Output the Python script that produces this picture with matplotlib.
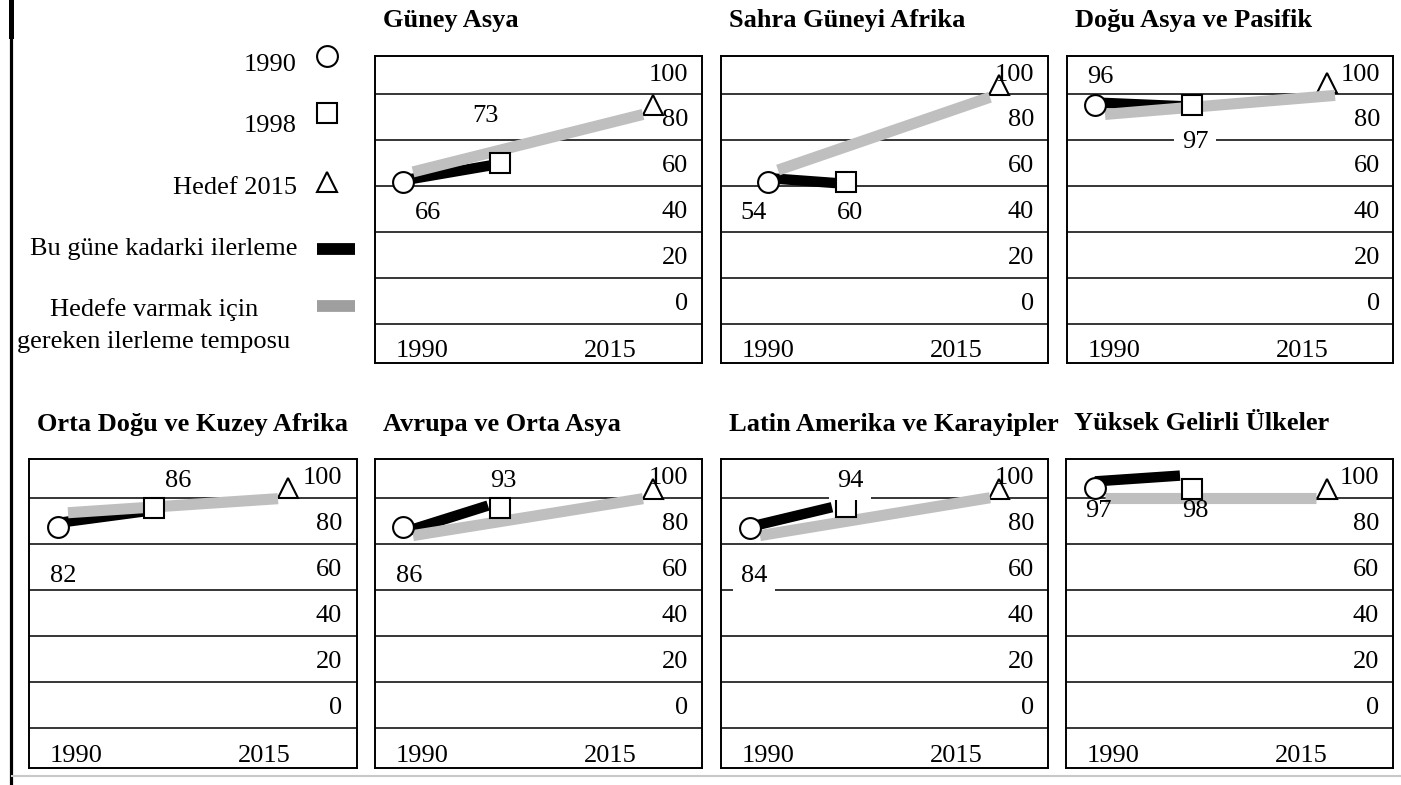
import matplotlib
matplotlib.use("Agg")
import matplotlib.pyplot as plt
from matplotlib.lines import Line2D

plt.rcParams['font.family'] = ['Liberation Serif', 'DejaVu Serif']

# ---------------- data ----------------
regions = ["Güney Asya", "Sahra Güneyi Afrika", "Doğu Asya ve Pasifik",
           "Orta Doğu ve Kuzey Afrika", "Avrupa ve Orta Asya",
           "Latin Amerika ve Karayipler", "Yüksek Gelirli Ülkeler"]
value_1990 = [66, 54, 96, 82, 86, 84, 97]
value_1998 = [73, 60, 97, 86, 93, 94, 98]
# where the marks sit on each panel's 0-100 scale
mark_1990 = [51.7, 51.7, 85.2, 77.4, 77.4, 77.0, 94.3]
mark_1998 = [60.0, 51.7, 85.2, 85.7, 85.7, 86.1, 94.0]
mark_target = [85.2, 94.1, 94.8, 94.1, 93.9, 93.9, 93.9]
progress_start = [52.5, 53.5, 86.5, 79.1, 75.0, 77.4, 97.1]
progress_end = [59.0, 51.3, 84.9, 84.0, 86.6, 85.9, 99.6]
pace_start = [56.2, 57.0, 81.3, 83.5, 73.6, 73.6, 90.0]
pace_end = [81.3, 88.8, 89.6, 89.6, 89.6, 90.0, 90.0]
scale_ticks = [0, 20, 40, 60, 80, 100]
year_labels = ["1990", "2015"]
legend_labels = ["1990", "1998", "Hedef 2015", "Bu güne kadarki ilerleme",
                 "Hedefe varmak için", "gereken ilerleme temposu"]

# ---------------- layout ----------------
W, H = 1401, 785
FS = 19
TFS = 19
GRAY = "#bfbfbf"
MEW = 1.5
MS_O, MS_S, MS_T = 15, 14.5, 15

# panel boxes in pixels: left, top, right, bottom
boxes = [(375, 56, 702, 363), (721, 56, 1048, 363), (1067, 56, 1393, 363),
         (29, 459, 357, 768), (375, 459, 702, 768), (721, 459, 1048, 768),
         (1066, 459, 1393, 768)]
# horizontal placement inside a panel (panel units 0..327)
x_circle = [28, 47, 28, 29, 28, 29, 29]
x_square = [125, 125, 125, 125, 125, 125, 126]
x_tri = [278, 278, 260, 259, 278, 278, 261]
x_pace0 = [38, 57, 38, 39, 38, 39, 39]
x_pace1 = [268, 269, 268, 249, 268, 269, 250]
x_prog1 = [115, 116, 115, 114, 113, 111, 114]
lab_a = [(53, 39.6, False), (33, 39.6, False), (33, 99.1, False), (34, 57.2, False),
         (34, 57.2, False), (33, 57.2, True), (32, 85.7, False)]
lab_b = [(110, 81.7, False), (129, 39.6, False), (128, 70.4, True), (149, 98.5, False),
         (128, 98.5, False), (129, 98.5, True), (129, 85.7, False)]
TXT_DY = -1.3  # small downward nudge so text sits like the reference

fig = plt.figure(figsize=(W / 100, H / 100), dpi=100)

for i, name in enumerate(regions):
    l, t, r, b = boxes[i]
    ax = fig.add_axes([l / W, 1 - b / H, (r - l) / W, (b - t) / H])
    ax.set_xlim(0, r - l)
    ax.set_ylim(-27.2, 106.8)
    ax.set_xticks([])
    ax.set_yticks([])
    for s in ax.spines.values():
        s.set_linewidth(1.4)
        s.set_color("black")
    for g in [90, 70, 50, 30, 10, -10]:
        ax.axhline(g, color="black", lw=1.1, zorder=1)
    for v in scale_ticks:
        ax.text(313, v + TXT_DY, str(v), ha="right", va="center", fontsize=FS, zorder=6)
    ax.text(47, -20.5 + TXT_DY, year_labels[0], ha="center", va="center", fontsize=FS)
    ax.text(235, -20.5 + TXT_DY, year_labels[1], ha="center", va="center", fontsize=FS)

    # progress so far (black) and required pace (gray)
    ax.plot([x_circle[i], x_prog1[i]], [progress_start[i], progress_end[i]],
            color="black", lw=7.5, solid_capstyle="butt", zorder=2)
    ax.plot([x_tri[i]], [mark_target[i]], marker="^", ms=MS_T, mfc="white",
            mec="black", mew=MEW, zorder=2.5, clip_on=False)
    ax.plot([x_pace0[i], x_pace1[i]], [pace_start[i], pace_end[i]],
            color=GRAY, lw=8, solid_capstyle="butt", zorder=3)
    ax.plot([x_square[i]], [mark_1998[i]], marker="s", ms=MS_S, mfc="white",
            mec="black", mew=MEW, zorder=4, clip_on=False)
    ax.plot([x_circle[i]], [mark_1990[i]], marker="o", ms=MS_O, mfc="white",
            mec="black", mew=MEW, zorder=4, clip_on=False)

    for (x, y, boxed), val in ((lab_a[i], value_1990[i]), (lab_b[i], value_1998[i])):
        kw = {}
        if boxed:
            kw["bbox"] = dict(boxstyle="square,pad=0.3", fc="white", ec="none")
        ax.text(x, y + TXT_DY, str(val), ha="center", va="center", fontsize=FS,
                zorder=7, **kw)

    fig.text((l + 8) / W, 1 - (t - 35) / H, name, ha="left", va="center",
             fontsize=TFS, fontweight="bold")

# ---------------- legend and frame lines (pixel overlay) ----------------
ov = fig.add_axes([0, 0, 1, 1], zorder=-1)
ov.set_xlim(0, W)
ov.set_ylim(H, 0)
ov.axis("off")
ov.patch.set_alpha(0)

ov.text(297, 65, legend_labels[0], ha="right", va="center", fontsize=FS)
ov.plot([327], [56], marker="o", ms=MS_O, mfc="white", mec="black", mew=MEW)
ov.text(297, 126, legend_labels[1], ha="right", va="center", fontsize=FS)
ov.plot([327], [113], marker="s", ms=MS_S, mfc="white", mec="black", mew=MEW)
ov.text(297, 188, legend_labels[2], ha="right", va="center", fontsize=FS)
ov.plot([327], [182], marker="^", ms=MS_T, mfc="white", mec="black", mew=MEW)
ov.text(297, 249, legend_labels[3], ha="right", va="center", fontsize=FS)
ov.plot([317, 355], [249, 249], color="black", lw=8.5, solid_capstyle="butt")
ov.text(154, 310, legend_labels[4], ha="center", va="center", fontsize=FS)
ov.text(154, 342, legend_labels[5], ha="center", va="center", fontsize=FS)
ov.plot([317, 355], [306, 306], color="#9f9f9f", lw=8.5, solid_capstyle="butt")

ov.add_line(Line2D([10.5, 10.5], [0, 36], color="black", lw=3.6))
ov.add_line(Line2D([10.5, 10.5], [36, 785], color="black", lw=2.3))
ov.add_line(Line2D([12, 1401], [776, 776], color="#c8c8c8", lw=1.5))

fig.savefig("out.png", dpi=100)
